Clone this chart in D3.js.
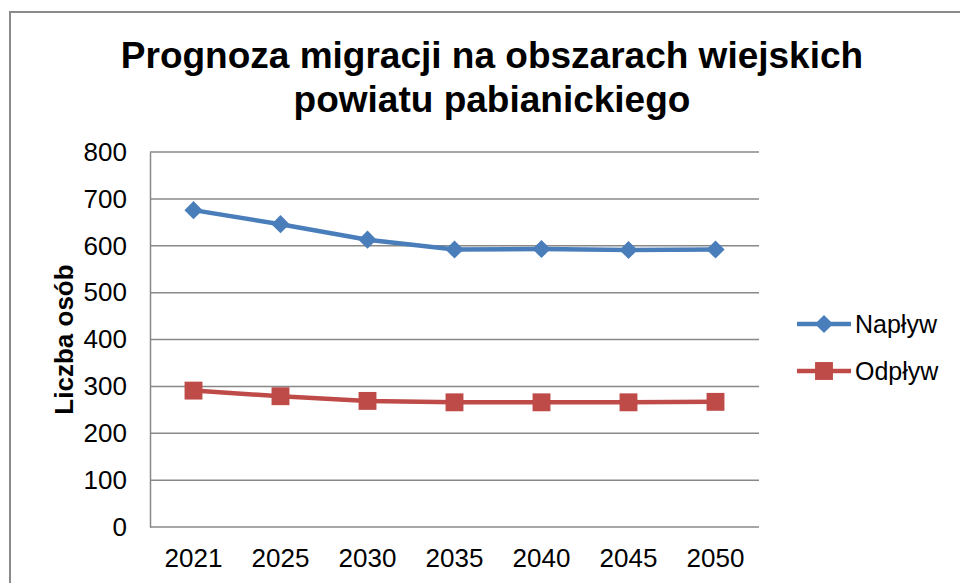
<!DOCTYPE html>
<html>
<head>
<meta charset="utf-8">
<script src="https://cdn.jsdelivr.net/npm/d3@7"></script>
<style>
  html, body { margin: 0; padding: 0; background: #fff; }
  svg { display: block; font-family: "Liberation Sans", Arial, sans-serif; }
</style>
</head>
<body>
<div id="chart"></div>
<script>
const years = ['2021', '2025', '2030', '2035', '2040', '2045', '2050'];
const naplyw = [676, 646, 613, 592, 593, 591, 592];
const odplyw = [291, 279, 269, 266, 266, 266, 267];
const yTicks = [0, 100, 200, 300, 400, 500, 600, 700, 800];
const seriesNames = ['Napływ', 'Odpływ'];
const seriesColors = ['#4a7ebb', '#be4b48'];

const width = 960, height = 583;
const plot = { left: 150, right: 759, top: 152, bottom: 527 };

const svg = d3.select('#chart').append('svg')
    .attr('width', width)
    .attr('height', height);

// outer chart frame (left + top visible)
svg.append('rect')
    .attr('x', 10).attr('y', 12)
    .attr('width', 970).attr('height', 600)
    .attr('fill', 'none')
    .attr('stroke', '#8a8a8a')
    .attr('stroke-width', 2);

// title
svg.append('text')
    .attr('text-anchor', 'middle')
    .attr('font-size', 37).attr('font-weight', 'bold')
    .selectAll('tspan')
    .data(['Prognoza migracji na obszarach wiejskich', 'powiatu pabianickiego'])
    .enter().append('tspan')
        .attr('x', 492)
        .attr('y', (d, i) => 68 + i * 44)
        .text(d => d);

const x = d3.scaleBand()
    .domain(years)
    .range([plot.left, plot.right]);

const y = d3.scaleLinear()
    .domain([0, 800])
    .range([plot.bottom, plot.top]);

// gridlines
svg.append('g')
    .selectAll('line')
    .data(yTicks)
    .enter().append('line')
        .attr('x1', plot.left).attr('x2', plot.right)
        .attr('y1', d => y(d)).attr('y2', d => y(d))
        .attr('stroke', '#888')
        .attr('stroke-width', 1.5);

// y axis
const yAxis = svg.append('g')
    .attr('transform', `translate(${plot.left},0)`)
    .call(d3.axisLeft(y).tickValues(yTicks).tickSize(0).tickPadding(23));
yAxis.select('.domain').attr('stroke', '#888').attr('stroke-width', 1.5);
yAxis.selectAll('text').attr('font-size', 26).attr('fill', '#000')
    .attr('font-family', '"Liberation Sans", Arial, sans-serif');

// x axis
const xAxis = svg.append('g')
    .attr('transform', `translate(0,${plot.bottom})`)
    .call(d3.axisBottom(x).tickSize(0).tickPadding(22));
xAxis.select('.domain').remove();
xAxis.selectAll('text').attr('font-size', 26).attr('fill', '#000')
    .attr('font-family', '"Liberation Sans", Arial, sans-serif');

// y title
svg.append('text')
    .attr('transform', `translate(73,${(plot.top + plot.bottom) / 2}) rotate(-90)`)
    .attr('text-anchor', 'middle')
    .attr('font-size', 26).attr('font-weight', 'bold')
    .text('Liczba osób');

const cx = d => x(d) + x.bandwidth() / 2;
const line = d3.line()
    .x((d, i) => cx(years[i]))
    .y(d => y(d));

const diamond = d3.symbol().type(d3.symbolDiamond2).size(210);
const square = d3.symbol().type(d3.symbolSquare).size(320);

[naplyw, odplyw].forEach((vals, k) => {
    svg.append('path')
        .datum(vals)
        .attr('d', line)
        .attr('fill', 'none')
        .attr('stroke', seriesColors[k])
        .attr('stroke-width', 4.5);
    svg.append('g')
        .selectAll('path')
        .data(vals)
        .enter().append('path')
            .attr('transform', (d, i) => `translate(${cx(years[i])},${y(d)})`)
            .attr('d', k === 0 ? diamond : square)
            .attr('fill', seriesColors[k]);
});

// legend
const legend = svg.append('g')
    .selectAll('g')
    .data(seriesNames)
    .enter().append('g')
        .attr('transform', (d, i) => `translate(797,${324 + i * 47})`);
legend.append('line')
    .attr('x1', 0).attr('x2', 54)
    .attr('stroke', (d, i) => seriesColors[i])
    .attr('stroke-width', 4.5);
legend.append('path')
    .attr('transform', 'translate(27,0)')
    .attr('d', (d, i) => i === 0 ? diamond() : square())
    .attr('fill', (d, i) => seriesColors[i]);
legend.append('text')
    .attr('x', 58).attr('y', 9)
    .attr('font-size', 25)
    .text(d => d);
</script>
</body>
</html>
